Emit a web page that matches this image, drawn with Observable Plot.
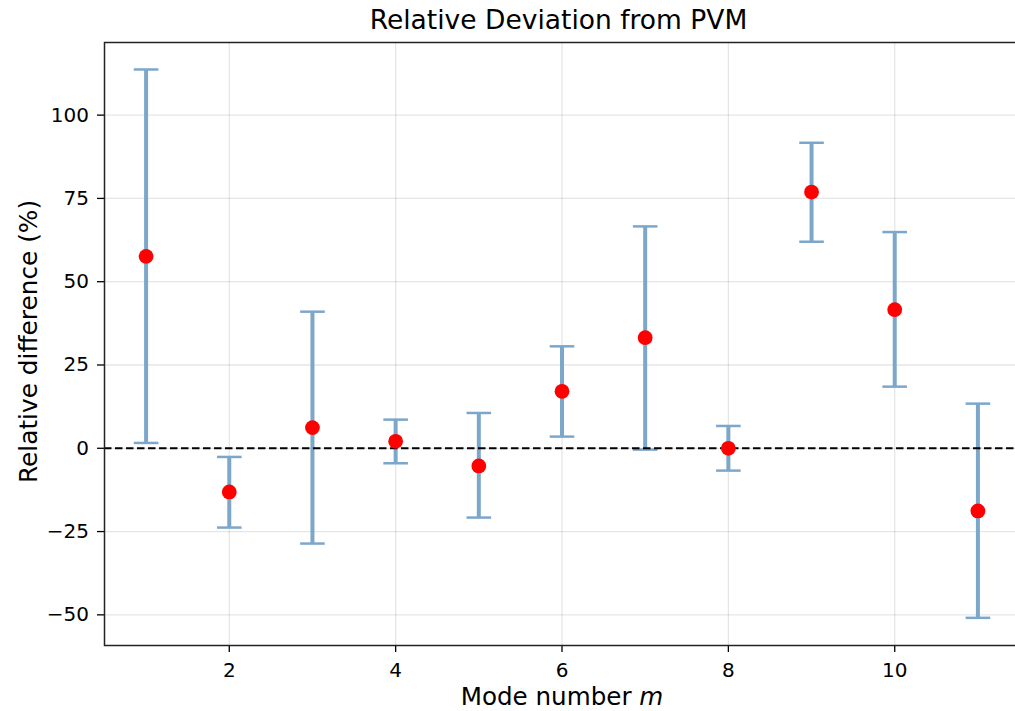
<!DOCTYPE html>
<html>
<head>
<meta charset="utf-8">
<script src="https://cdn.jsdelivr.net/npm/d3@7"></script>
<script src="https://cdn.jsdelivr.net/npm/@observablehq/plot@0.6"></script>
<style>
  html, body { margin: 0; padding: 0; background: #fff; overflow: hidden; }
  #chart { width: 1015px; height: 711px; overflow: hidden; }
</style>
</head>
<body>
<div id="chart"></div>
<script>
// Data
const modes = [1, 2, 3, 4, 5, 6, 7, 8, 9, 10, 11];
const values = [57.6, -13.1, 6.2, 2.1, -5.3, 17.1, 33.2, 0.0, 76.9, 41.6, -18.8];
const lower = [1.6, -23.8, -28.6, -4.5, -20.8, 3.5, -0.4, -6.7, 62.0, 18.5, -50.9];
const upper = [113.7, -2.6, 41.0, 8.6, 10.6, 30.6, 66.6, 6.7, 91.7, 64.9, 13.4];
const xTicks = [2, 4, 6, 8, 10];
const yTicks = [-50, -25, 0, 25, 50, 75, 100];

const data = modes.map((m, i) => ({ m, v: values[i], lo: lower[i], hi: upper[i] }));

const errColor = "#7da7ca";
const fmt = d => (d < 0 ? "\u2212" + Math.abs(d) : String(d));

// horizontal cap symbol (half width = r)
const capSymbol = {
  draw(context, size) {
    const r = Math.sqrt(size / Math.PI);
    context.moveTo(-r, 0);
    context.lineTo(r, 0);
  }
};

const W = 1015, H = 711;
const mL = 104, mR = -4, mT = 42, mB = 66;

const plot = Plot.plot({
  width: W,
  height: H,
  marginLeft: mL,
  marginRight: mR,
  marginTop: mT,
  marginBottom: mB,
  style: { fontFamily: "DejaVu Sans", fontSize: "20px", color: "#000", background: "#fff", overflow: "hidden" },
  x: { domain: [0.5, 11.5] },
  y: { domain: [-59.2, 121.8] },
  marks: [
    Plot.gridX(xTicks, { stroke: "#000", strokeOpacity: 0.1, strokeWidth: 1.3 }),
    Plot.gridY(yTicks, { stroke: "#000", strokeOpacity: 0.1, strokeWidth: 1.3 }),
    Plot.axisX({ ticks: xTicks, tickSize: 7, tickPadding: 10, tickFormat: fmt, label: null, strokeWidth: 1.3, fontSize: 20 }),
    Plot.axisY({ ticks: yTicks, tickSize: 7, tickPadding: 8.5, tickFormat: fmt, label: null, strokeWidth: 1.3, fontSize: 20 }),
    Plot.ruleX(data, { x: "m", y1: "lo", y2: "hi", stroke: errColor, strokeWidth: 4 }),
    Plot.dot(data, { x: "m", y: "lo", symbol: capSymbol, r: 12.3, stroke: errColor, strokeWidth: 2.5, fill: "none" }),
    Plot.dot(data, { x: "m", y: "hi", symbol: capSymbol, r: 12.3, stroke: errColor, strokeWidth: 2.5, fill: "none" }),
    Plot.ruleY([0], { stroke: "#000", strokeWidth: 2, strokeDasharray: "7.5,3.5" }),
    Plot.dot(data, { x: "m", y: "v", r: 7.4, fill: "#ff0000", stroke: "none" }),
    Plot.frame({ stroke: "#222", strokeWidth: 1.5 })
  ]
});

const svg = d3.select(plot);
// Title
svg.append("text")
  .attr("x", 558.5).attr("y", 28.7)
  .attr("text-anchor", "middle")
  .attr("font-family", "DejaVu Sans")
  .attr("font-size", 26.5)
  .attr("fill", "#000")
  .text("Relative Deviation from PVM");
// X label
const xl = svg.append("text")
  .attr("x", 562).attr("y", 705)
  .attr("text-anchor", "middle")
  .attr("font-family", "DejaVu Sans")
  .attr("font-size", 24.6)
  .attr("fill", "#000");
xl.append("tspan").text("Mode number ");
xl.append("tspan").attr("font-style", "italic").text("m");
// Y label
svg.append("text")
  .attr("transform", "translate(36.5,341.5) rotate(-90)")
  .attr("text-anchor", "middle")
  .attr("font-family", "DejaVu Sans")
  .attr("font-size", 24.8)
  .attr("fill", "#000")
  .text("Relative difference (%)");

document.getElementById("chart").appendChild(plot);
</script>
</body>
</html>
